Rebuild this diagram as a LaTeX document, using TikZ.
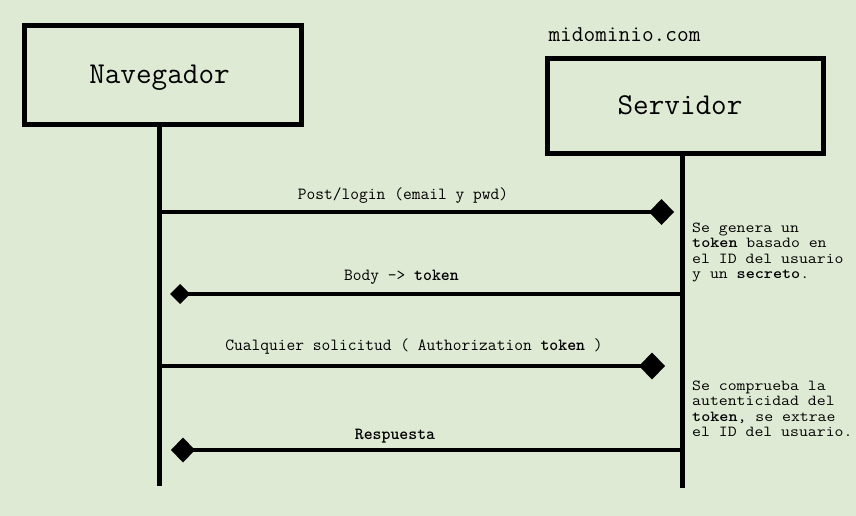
\documentclass[tikz,border=0pt]{standalone}
\usepackage{fontspec}
\renewcommand{\familydefault}{\ttdefault}
\newfontfamily\notefont{lmmono12-regular.otf}[BoldFont=lmmonolt10-bold.otf, FakeStretch=1.13]
\usetikzlibrary{arrows.meta}
\definecolor{bg}{RGB}{223,234,212}
\begin{document}
\begin{tikzpicture}[x=1pt,y=-1pt,
  box/.style={draw, line width=5pt, inner sep=0pt},
  title/.style={anchor=base, inner sep=0pt, font=\fontsize{30.3}{34}\selectfont},
  life/.style={line width=4.5pt},
  msg/.style={line width=3.5pt},
  lbl/.style={anchor=base, inner sep=0pt, font=\fontsize{17}{20}\selectfont},
  note/.style={anchor=base west, align=left, inner sep=0pt, font=\notefont\fontsize{15.3}{15.4}\selectfont},
  bigtip/.style={-{Diamond[length=25pt,width=26pt]}},
  smalltip/.style={-{Diamond[length=20pt,width=20pt]}}
]
\fill[bg] (0,0) rectangle (856,516);
\useasboundingbox (0,0) rectangle (856,516);

% boxes
\node[box, minimum width=277pt, minimum height=99pt] (nav) at (163,75) {};
\node[title] (navtxt) at (159.5,84) {Navegador};
\node[box, minimum width=276pt, minimum height=94pt] (srv) at (685,106) {};
\node[title] (srvtxt) at (680,114) {Servidor};
\node[anchor=base, inner sep=0pt, font=\fontsize{22.7}{26}\selectfont] (dom) at (624.5,42) {midominio.com};

% lifelines
\coordinate (navtop) at (159.5,124.5);
\coordinate (navbot) at (159.5,486);
\coordinate (srvtop) at (682.5,153);
\coordinate (srvbot) at (682.5,488);
\draw[life] (navtop) -- (navbot);
\draw[life] (srvtop) -- (srvbot);

% message endpoints
\coordinate (m1a) at (159.5,212); \coordinate (m1b) at (674,212);
\coordinate (m2a) at (682.5,294); \coordinate (m2b) at (170,294);
\coordinate (m3a) at (157,366);   \coordinate (m3b) at (665,366);
\coordinate (m4a) at (682.5,450); \coordinate (m4b) at (171,450);

\draw[msg, bigtip] (m1a) -- (m1b);
\draw[msg, smalltip] (m2a) -- (m2b);
\draw[msg, -{Diamond[length=26pt,width=27pt]}] (m3a) -- (m3b);
\draw[msg, -{Diamond[length=24pt,width=25pt]}] (m4a) -- (m4b);

% labels
\node[lbl] (l1) at (403,199.5) {Post/login (email y pwd)};
\node[lbl] (l2) at (401.5,280) {Body -> \textbf{token}};
\node[lbl] (l3) at (414,350.5) {Cualquier solicitud ( Authorization \textbf{token} )};
\node[lbl] (l4) at (395,439) {\textbf{Respuesta}};

% notes (base anchor = baseline of last line)
\node[note] (n1) at (692,278.5) {Se genera un\\\textbf{token} basado en\\el ID del usuario\\y un \textbf{secreto}.};
\node[note] (n2) at (692,436.5) {Se comprueba la\\autenticidad del\\\textbf{token}, se extrae\\el ID del usuario.};
\end{tikzpicture}
\end{document}
